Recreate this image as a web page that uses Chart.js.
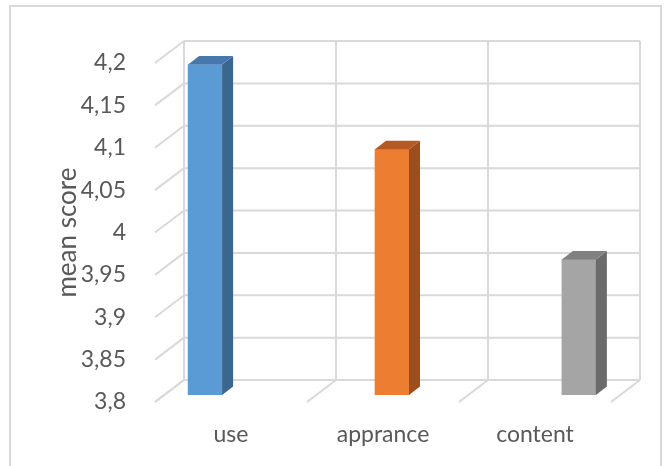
<!DOCTYPE html>
<html>
<head>
<meta charset="utf-8">
<title>mean score</title>
<script src="https://cdn.jsdelivr.net/npm/chart.js@4.4.1/dist/chart.umd.min.js"></script>
<style>
  html, body { margin: 0; padding: 0; background: #fff; }
  canvas { display: block; }
</style>
</head>
<body>
<canvas id="scoreChart" width="670" height="466"></canvas>
<script>
const categories = ['use', 'apprance', 'content'];
const meanScores = [4.19, 4.09, 3.96];
const scoreMin = 3.8;
const scoreMax = 4.2;
const scoreStep = 0.05;

const frontColors = ['#5B9BD5', '#ED7D31', '#A5A5A5'];
const sideColors = ['#3A6690', '#9C4E1E', '#6B6B6B'];
const topColors = ['#4678AC', '#B45A22', '#808080'];

const gridColor = '#d9d9d9';
const textColor = '#595959';
const fontFamily = 'Lato, "Open Sans", sans-serif';

// depth of the floor / side wall, and of the columns
const wallDepth = { x: 29, y: -22 };
const barShift = { x: 9, y: -7 };
const barDepth = { x: 11, y: -8.5 };

function line(ctx, x1, y1, x2, y2) {
  ctx.beginPath();
  ctx.moveTo(x1, y1);
  ctx.lineTo(x2, y2);
  ctx.stroke();
}

const frame = {
  id: 'frame',
  beforeDraw(chart) {
    const ctx = chart.ctx;
    ctx.save();
    ctx.strokeStyle = gridColor;
    ctx.lineWidth = 2;
    ctx.strokeRect(10, 6, 651, 470);
    ctx.restore();
  }
};

// back wall, side wall and floor of the 3d box
const walls = {
  id: 'walls',
  beforeDatasetsDraw(chart) {
    const ctx = chart.ctx;
    const x = chart.scales.x;
    const y = chart.scales.y;
    const area = chart.chartArea;
    const dx = wallDepth.x, dy = wallDepth.y;

    ctx.save();
    ctx.strokeStyle = gridColor;
    ctx.lineWidth = 2;

    y.ticks.forEach(t => {
      const py = y.getPixelForValue(t.value);
      line(ctx, area.left + dx, py + dy, area.right + dx, py + dy);
      line(ctx, area.left, py, area.left + dx, py + dy);
    });

    const band = x.getPixelForValue(1) - x.getPixelForValue(0);
    for (let i = 0; i <= categories.length; i++) {
      const px = x.getPixelForValue(0) - band / 2 + i * band;
      line(ctx, px + dx, y.getPixelForValue(scoreMax) + dy, px + dx, area.bottom + dy);
      line(ctx, px, area.bottom, px + dx, area.bottom + dy);
    }
    ctx.restore();

    // columns stand a bit behind the front edge
    ctx.save();
    ctx.translate(barShift.x, barShift.y);
  },
  afterDatasetsDraw(chart) {
    const ctx = chart.ctx;
    const y = chart.scales.y;
    const base = y.getPixelForValue(scoreMin);
    const meta = chart.getDatasetMeta(0);
    meta.data.forEach((bar, i) => {
      const p = bar.getProps(['x', 'y', 'width'], true);
      const l = p.x - p.width / 2;
      const r = p.x + p.width / 2;
      const dx = barDepth.x, dy = barDepth.y;

      ctx.fillStyle = sideColors[i];
      ctx.beginPath();
      ctx.moveTo(r, p.y);
      ctx.lineTo(r + dx, p.y + dy);
      ctx.lineTo(r + dx, base + dy);
      ctx.lineTo(r, base);
      ctx.closePath();
      ctx.fill();

      ctx.fillStyle = topColors[i];
      ctx.beginPath();
      ctx.moveTo(l, p.y);
      ctx.lineTo(l + dx, p.y + dy);
      ctx.lineTo(r + dx, p.y + dy);
      ctx.lineTo(r, p.y);
      ctx.closePath();
      ctx.fill();
    });
    ctx.restore();
  }
};

new Chart(document.getElementById('scoreChart'), {
  type: 'bar',
  data: {
    labels: categories,
    datasets: [{
      label: 'mean score',
      data: meanScores.map((v, i) => ({ x: i, y: v })),
      xAxisID: 'xb',
      base: scoreMin,
      backgroundColor: frontColors,
      borderWidth: 0,
      barThickness: 34
    }]
  },
  options: {
    responsive: false,
    animation: false,
    events: [],
    layout: { padding: { top: 63, right: 59, bottom: 0, left: 0 } },
    plugins: {
      legend: { display: false },
      tooltip: { enabled: false }
    },
    scales: {
      x: {
        type: 'category',
        position: 'bottom',
        offset: true,
        grid: { display: false },
        border: { display: false },
        ticks: {
          color: textColor,
          padding: 11,
          font: { family: fontFamily, size: 23 }
        },
        afterFit(scale) { scale.height = 64; }
      },
      xb: {
        type: 'linear',
        position: 'bottom',
        display: false,
        offset: false,
        grid: { offset: false },
        min: -0.22,
        max: 2.22
      },
      y: {
        min: scoreMin,
        max: scoreMax,
        grid: { display: false },
        border: { display: false },
        ticks: {
          stepSize: scoreStep,
          color: textColor,
          padding: 21,
          font: { family: fontFamily, size: 23 },
          callback: v => String(+v.toFixed(2)).replace('.', ',')
        },
        title: {
          display: true,
          text: 'mean score',
          color: textColor,
          padding: { top: 52, bottom: 0 },
          font: { family: fontFamily, size: 26 }
        },
        afterFit(scale) { scale.width = 155; }
      }
    }
  },
  plugins: [frame, walls]
});
</script>
</body>
</html>
